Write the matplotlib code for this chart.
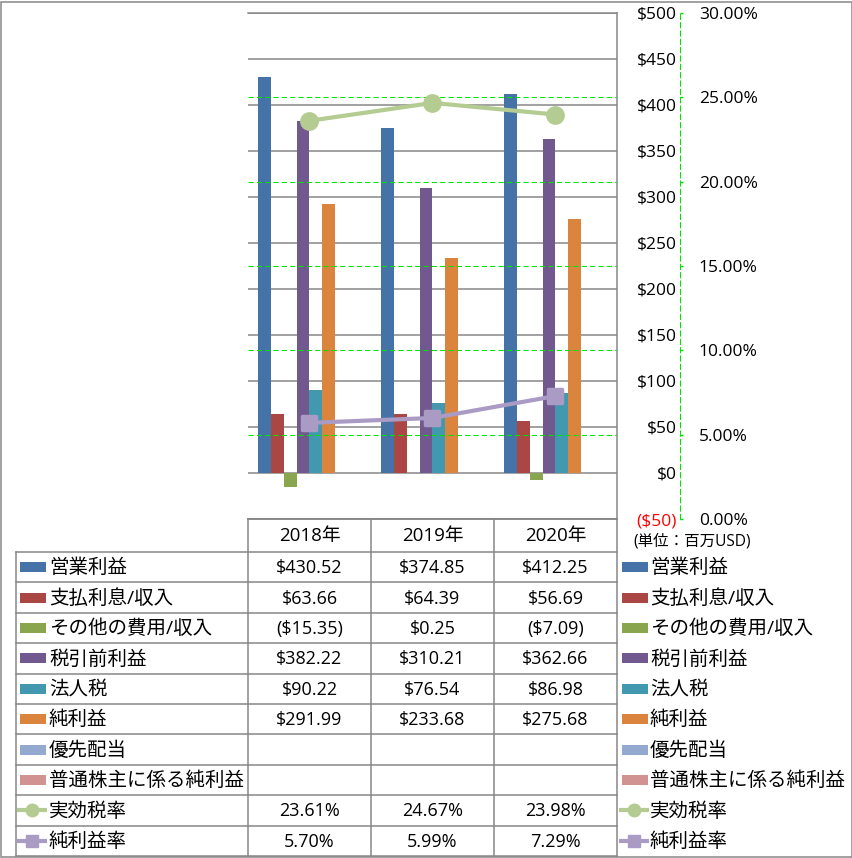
import numpy as np
import matplotlib
matplotlib.use('Agg')
import matplotlib.pyplot as plt
from matplotlib.patches import Rectangle
from matplotlib.markers import MarkerStyle

plt.rcParams['font.family'] = ['Open Sans', 'Noto Sans CJK JP', 'DejaVu Sans']

# data (百万USD)
years = ['2018年', '2019年', '2020年']
bar_names = ['営業利益', '支払利息/収入', 'その他の費用/収入', '税引前利益',
             '法人税', '純利益', '優先配当', '普通株主に係る純利益']
operating = [430.52, 374.85, 412.25]
interest = [63.66, 64.39, 56.69]
other = [-15.35, 0.25, -7.09]
pretax = [382.22, 310.21, 362.66]
tax = [90.22, 76.54, 86.98]
net = [291.99, 233.68, 275.68]
preferred = [np.nan, np.nan, np.nan]
common = [np.nan, np.nan, np.nan]
line_names = ['実効税率', '純利益率']
tax_rate = [23.61, 24.67, 23.98]
net_margin = [5.70, 5.99, 7.29]

bar_vals = [operating, interest, other, pretax, tax, net, preferred, common]
bar_colors = ['#4572A7', '#AA4643', '#89A54E', '#71588F',
              '#4198AF', '#DB843D', '#93A9CF', '#D19392']
line_vals = [tax_rate, net_margin]
line_colors = ['#B4CB92', '#A99BC4']
line_markers = ['o', 's']

W, H = 853, 858
grey = '#878787'
green = '#00E600'

fig = plt.figure(figsize=(W / 100, H / 100), dpi=100)

# background layer in pixel coords: frame + data table
bg = fig.add_axes([0, 0, 1, 1])
bg.set_xlim(0, W)
bg.set_ylim(H, 0)
bg.axis('off')
bg.add_patch(Rectangle((1.5, 1.5), 850.5, 855, fill=False, ec=grey, lw=1.1))

cols = [16, 248, 371, 494, 617]
head_top, row_top, row_h = 519, 552, 30.4
nrows = len(bar_names) + len(line_names)
row_bot = row_top + nrows * row_h

bg.plot([cols[1], cols[-1]], [head_top, head_top], color=grey, lw=1.1)
for i in range(nrows + 1):
    y = row_top + i * row_h
    bg.plot([cols[0], cols[-1]], [y, y], color=grey, lw=1.1)
bg.plot([cols[0], cols[0]], [row_top, row_bot], color=grey, lw=1.1)
for c in cols[1:]:
    bg.plot([c, c], [head_top, row_bot], color=grey, lw=1.1)

for j, yr in enumerate(years):
    bg.text((cols[j + 1] + cols[j + 2]) / 2, (head_top + row_top) / 2 + 1, yr,
            ha='center', va='center', fontsize=13.5)


def money(v):
    if np.isnan(v):
        return ''
    if v < 0:
        return '(${:.2f})'.format(-v)
    return '${:.2f}'.format(v)


def legend_glyph(x0, yc, k):
    if k < len(bar_names):
        bg.add_patch(Rectangle((x0, yc - 5), 26, 10, color=bar_colors[k], lw=0))
    else:
        m = k - len(bar_names)
        bg.plot([x0 - 3, x0 + 27], [yc, yc], color=line_colors[m], lw=3,
                solid_capstyle='butt')
        bg.plot([x0 + 12], [yc], marker=line_markers[m], ms=9,
                color=line_colors[m], mec=line_colors[m])


all_names = bar_names + line_names
for k, name in enumerate(all_names):
    yc = row_top + (k + 0.5) * row_h
    legend_glyph(20, yc, k)
    bg.text(49, yc + 1, name, ha='left', va='center', fontsize=14)
    legend_glyph(622, yc, k)
    bg.text(650, yc + 1, name, ha='left', va='center', fontsize=14)
    for j in range(3):
        if k < len(bar_names):
            s = money(bar_vals[k][j])
        else:
            s = '{:.2f}%'.format(line_vals[k - len(bar_names)][j])
        bg.text((cols[j + 1] + cols[j + 2]) / 2, yc + 1, s,
                ha='center', va='center', fontsize=13)

bg.text(633, 541, '(単位：百万USD)', ha='left', va='center', fontsize=11.2)

# chart
ax = fig.add_axes([248 / W, 1 - 519 / H, 369 / W, 506 / H])
x = np.arange(len(years))
w = 0.105
for i, (vals, c) in enumerate(zip(bar_vals, bar_colors)):
    ax.bar(x + (i - 3.5) * w, vals, w, color=c, zorder=2, label=bar_names[i])
ax.set_xlim(-0.5, 2.5)
ax.set_ylim(-50, 500)
ax.set_xticks([])
ax.grid(axis='y', color=grey, lw=1.1, zorder=0)
ax.set_axisbelow(True)
ax.spines['left'].set_visible(False)
for s in ['right', 'top', 'bottom']:
    ax.spines[s].set_color(grey)
    ax.spines[s].set_linewidth(1.1)
ax.patch.set_alpha(0)

ax2 = ax.twinx()
ax2.set_ylim(0, 30)
pct = list(range(0, 31, 5))
ax2.set_yticks(pct)
ax2.set_yticklabels(['{:.2f}%'.format(p) for p in pct])
ax2.tick_params(axis='y', direction='out', length=2.5, width=1, color=green,
                pad=11, labelsize=12.5)
for s in ['left', 'top', 'bottom']:
    ax2.spines[s].set_visible(False)
ax2.spines['right'].set_position(('axes', (680 - 248) / 369))
ax2.spines['right'].set_color(green)
ax2.spines['right'].set_linestyle((0, (5, 3)))
ax2.spines['right'].set_linewidth(0.75)
ax2.grid(axis='y', color=green, lw=0.75, ls=(0, (5, 3)))
tks = ax2.yaxis.get_major_ticks()
tks[0].gridline.set_visible(False)
tks[-1].gridline.set_visible(False)

# primary $ labels on the right, next to the secondary axis line
ticks = list(range(-50, 501, 50))
ax.set_yticks(ticks)
ax.set_yticklabels(['(${})'.format(-t) if t < 0 else '${}'.format(t) for t in ticks])
ax.tick_params(axis='y', left=False, labelleft=False, right=False, labelright=True,
               length=0, pad=43, labelsize=12.5)
for t in ax.yaxis.get_major_ticks():
    t.label2.set_horizontalalignment('right')
ax.yaxis.get_major_ticks()[0].label2.set_color('red')

for vals, c, m, name in zip(line_vals, line_colors, line_markers, line_names):
    ms = 11 if m == 'o' else 9.5
    ax2.plot(x, vals, color=c, lw=3, marker=MarkerStyle(m, joinstyle='round'),
             ms=ms, mec=c, mew=2.5, zorder=3, label=name)

fig.savefig('out.png', dpi=100)
